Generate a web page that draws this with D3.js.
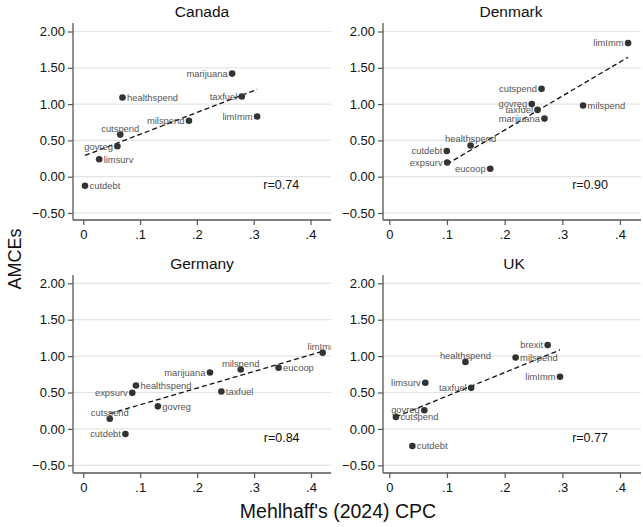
<!DOCTYPE html>
<html>
<head>
    <meta charset="utf-8">
    <title>AMCEs vs CPC by country</title>
    <script src="https://d3js.org/d3.v7.min.js"></script>
    <style>
        body { margin: 0; background: #fff; }
        text { font-family: "Liberation Sans", Arial, Helvetica, sans-serif; }
    </style>
</head>
<body>
    <script>
        // Data: CPC (x) and AMCE (y) for each issue
        const canadaIssues = ["marijuana", "healthspend", "taxfuel", "limImm", "milspend", "cutspend", "govreg", "limsurv", "cutdebt"];
        const canadaCPC    = [0.262, 0.069, 0.279, 0.306, 0.186, 0.065, 0.060, 0.028, 0.003];
        const canadaAMCE   = [1.42, 1.09, 1.105, 0.83, 0.77, 0.58, 0.42, 0.24, -0.125];

        const denmarkIssues = ["limImm", "cutspend", "govreg", "taxfuel", "marijuana", "milspend", "healthspend", "cutdebt", "expsurv", "eucoop"];
        const denmarkCPC    = [0.414, 0.264, 0.247, 0.257, 0.269, 0.336, 0.141, 0.0997, 0.1003, 0.175];
        const denmarkAMCE   = [1.84, 1.21, 1.00, 0.92, 0.80, 0.98, 0.43, 0.355, 0.195, 0.11];

        const germanyIssues = ["limImm", "milspend", "eucoop", "marijuana", "healthspend", "expsurv", "taxfuel", "govreg", "cutspend", "cutdebt"];
        const germanyCPC    = [0.4205, 0.2765, 0.343, 0.2225, 0.0925, 0.086, 0.2425, 0.131, 0.0465, 0.074];
        const germanyAMCE   = [1.046, 0.815, 0.84, 0.775, 0.596, 0.495, 0.514, 0.31, 0.14, -0.07];

        const ukIssues = ["brexit", "milspend", "healthspend", "limImm", "limsurv", "taxfuel", "govreg", "cutspend", "cutdebt"];
        const ukCPC    = [0.2746, 0.219, 0.132, 0.296, 0.0624, 0.142, 0.0607, 0.0115, 0.040];
        const ukAMCE   = [1.151, 0.98, 0.92, 0.716, 0.633, 0.564, 0.257, 0.165, -0.234];

        const corrLabels = ["r=0.74", "r=0.90", "r=0.84", "r=0.77"];
        const xTicks = [0, 0.1, 0.2, 0.3, 0.4];
        const xTickLabels = ["0", ".1", ".2", ".3", ".4"];
        const yTicks = [-0.5, 0, 0.5, 1, 1.5, 2];

        // marker label positions (clock positions, as in Stata mlabvposition)
        const canadaLabPos  = [9, 3, 9, 9, 9, 12, 9, 3, 3];
        const denmarkLabPos = [9, 9, 9, 9, 9, 3, 12, 9, 9, 9];
        const germanyLabPos = [12, 12, 3, 9, 3, 9, 3, 3, 12, 9];
        const ukLabPos      = [9, 3, 12, 9, 9, 9, 9, 3, 3];

        // panel layout in pixels
        const panels = [
            {title: "Canada",  issues: canadaIssues,  xs: canadaCPC,  ys: canadaAMCE,  pos: canadaLabPos,  r: corrLabels[0],
             left: 73,  right: 331, top: 23,  bottom: 220, x0: 83.3,  x4: 310.5, yHi: 31.5,  yLo: 213,   titleX: 202},
            {title: "Denmark", issues: denmarkIssues, xs: denmarkCPC, ys: denmarkAMCE, pos: denmarkLabPos, r: corrLabels[1],
             left: 383, right: 641, top: 23,  bottom: 220, x0: 389.3, x4: 620,   yHi: 31.5,  yLo: 213,   titleX: 511},
            {title: "Germany", issues: germanyIssues, xs: germanyCPC, ys: germanyAMCE, pos: germanyLabPos, r: corrLabels[2],
             left: 73,  right: 331, top: 275, bottom: 473, x0: 83.3,  x4: 311,   yHi: 283.3, yLo: 465.3, titleX: 202},
            {title: "UK",      issues: ukIssues,      xs: ukCPC,      ys: ukAMCE,      pos: ukLabPos,      r: corrLabels[3],
             left: 383, right: 641, top: 275, bottom: 473, x0: 389.3, x4: 620,   yHi: 283.3, yLo: 465.3, titleX: 514}
        ];

        const svg = d3.select("body")
          .append("svg")
            .attr("width", 643)
            .attr("height", 527);

        const axisColor = "#555";
        const gridColor = "#e3e3e3";

        // least squares fit, drawn over the observed x range
        function fitLine(xs, ys) {
            const mx = d3.mean(xs), my = d3.mean(ys);
            let sxy = 0, sxx = 0;
            xs.forEach((x, i) => { sxy += (x - mx) * (ys[i] - my); sxx += (x - mx) * (x - mx); });
            const b = sxy / sxx, a = my - b * mx;
            const [lo, hi] = d3.extent(xs);
            return [[lo, a + b * lo], [hi, a + b * hi]];
        }

        panels.forEach(function(p, pi) {
            const x = d3.scaleLinear().domain([0, 0.4]).range([p.x0, p.x4]);
            const y = d3.scaleLinear().domain([-0.5, 2]).range([p.yLo, p.yHi]);

            const g = svg.append("g");

            // clip for marker labels at panel edge
            g.append("clipPath").attr("id", "clip" + pi)
              .append("rect")
                .attr("x", p.left - 60).attr("y", p.top - 5)
                .attr("width", p.right - p.left + 60).attr("height", p.bottom - p.top + 10);

            // gridlines
            g.selectAll(".grid")
              .data(yTicks)
              .enter()
              .append("line")
                .attr("x1", p.left).attr("x2", p.right)
                .attr("y1", d => y(d)).attr("y2", d => y(d))
                .attr("stroke", gridColor)
                .attr("stroke-width", 1.2);

            // y axis
            const yAxis = g.append("g")
              .attr("transform", `translate(${p.left},0)`)
              .call(d3.axisLeft(y).tickValues(yTicks).tickSize(5).tickPadding(3)
                    .tickFormat(d => d3.format(".2f")(d).replace("-", "\u2212")));
            yAxis.select(".domain").attr("d", `M0,${p.top}V${p.bottom}`);

            // x axis
            const xAxis = g.append("g")
              .attr("transform", `translate(0,${p.bottom})`)
              .call(d3.axisBottom(x).tickValues(xTicks).tickSize(5).tickPadding(5)
                    .tickFormat((d, i) => xTickLabels[i]));
            xAxis.select(".domain").attr("d", `M${p.left},0H${p.right}`);

            [yAxis, xAxis].forEach(ax => {
                ax.select(".domain").attr("stroke", axisColor).attr("stroke-width", 1.3);
                ax.selectAll(".tick line").attr("stroke", axisColor).attr("stroke-width", 1.2);
                ax.selectAll(".tick text")
                  .attr("fill", "#111")
                  .style("font-family", '"Liberation Sans", Arial, sans-serif')
                  .style("font-size", "13px");
            });

            // panel title
            g.append("text")
              .attr("x", p.titleX)
              .attr("y", p.top - 6)
              .attr("text-anchor", "middle")
              .style("font-size", "15.5px")
              .attr("fill", "#111")
              .text(p.title);

            // fitted line
            const fit = fitLine(p.xs, p.ys);
            g.append("path")
              .datum(fit)
              .attr("fill", "none")
              .attr("stroke", "#111")
              .attr("stroke-width", 1.3)
              .attr("stroke-dasharray", "5,3")
              .attr("d", d3.line().x(d => x(d[0])).y(d => y(d[1])));

            // points
            const idx = d3.range(p.issues.length);
            g.selectAll(".pt")
              .data(idx)
              .enter()
              .append("circle")
                .attr("cx", i => x(p.xs[i]))
                .attr("cy", i => y(p.ys[i]))
                .attr("r", 3.3)
                .attr("fill", "#333");

            // marker labels
            g.append("g")
              .attr("clip-path", `url(#clip${pi})`)
              .selectAll("text")
              .data(idx)
              .enter()
              .append("text")
                .attr("x", i => {
                    const cx = x(p.xs[i]);
                    return p.pos[i] === 9 ? cx - 4.5 : p.pos[i] === 3 ? cx + 4.5 : cx;
                })
                .attr("y", i => y(p.ys[i]) + (p.pos[i] === 12 ? -3 : 3.3))
                .attr("text-anchor", i => p.pos[i] === 9 ? "end" : p.pos[i] === 3 ? "start" : "middle")
                .style("font-size", "9.4px")
                .attr("fill", "#555")
                .text(i => p.issues[i]);

            // correlation
            g.append("text")
              .attr("x", x(0.317))
              .attr("y", y(-0.115))
              .attr("dy", "0.35em")
              .style("font-size", "12.5px")
              .attr("fill", "#111")
              .text(p.r);
        });

        // Y axis title
        svg.append("text")
          .attr("transform", "translate(21,259) rotate(-90)")
          .attr("text-anchor", "middle")
          .style("font-size", "18px")
          .attr("fill", "#111")
          .text("AMCEs");

        // X axis title
        svg.append("text")
          .attr("x", 338)
          .attr("y", 518)
          .attr("text-anchor", "middle")
          .style("font-size", "19.5px")
          .attr("fill", "#111")
          .text("Mehlhaff's (2024) CPC");
    </script>
</body>
</html>
